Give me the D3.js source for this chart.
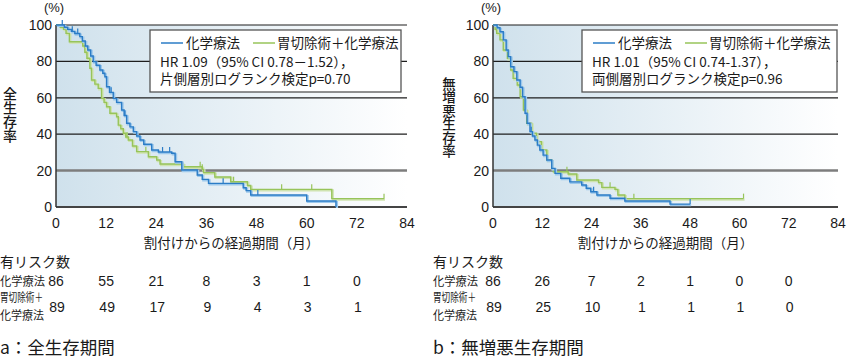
<!DOCTYPE html>
<html>
<head>
<meta charset="utf-8">
<script src="https://cdn.jsdelivr.net/npm/d3@7"></script>
<style>
  body { margin: 0; background: #fff; }
  svg text { font-family: "Liberation Sans", Arial, "Noto Sans CJK JP", sans-serif; fill: #1a1a1a; }
  .jp { font-family: "Noto Sans CJK JP", sans-serif; }
  .vert { writing-mode: vertical-rl; }
</style>
</head>
<body>
<svg id="chart" width="847" height="363"></svg>
<script>
// x axis months, y axis percent
var monthTicks = [0, 12, 24, 36, 48, 60, 72, 84];
var pctTicks = [0, 20, 40, 60, 80, 100];
var riskTimes = [0, 12, 24, 36, 48, 60, 72];

// a: overall survival
var osChemoT = [0, 2.0, 2.8, 3.7, 4.5, 5.7, 6.3, 7.0, 7.6, 8.3, 8.9, 9.6, 10.5, 11.2, 11.7, 12.1, 12.8, 13.7, 14.5, 15.7, 16.3, 16.9, 17.7, 18.5, 19.3, 20.1, 21.0, 22.9, 24.5, 27.7, 28.5, 30.1, 33.8, 35.0, 36.5, 44.8, 45.5, 46.6, 60.0, 67.0];
var osChemoS = [100, 98.8, 97.6, 96.5, 95.3, 93.6, 91.2, 88.5, 86.3, 83.0, 79.9, 77.9, 75.3, 73.5, 71.6, 66.1, 63.0, 59.7, 57.5, 53.3, 50.3, 46.0, 44.0, 41.4, 39.0, 36.8, 34.5, 31.3, 30.2, 29.5, 24.9, 20.3, 17.6, 15.2, 13.0, 10.6, 9.0, 6.6, 3.3, 0];
var osChemoCens = [1.5, 3.9, 5.2, 13.2, 16.5, 25.5, 27.2, 40.0, 48.3];
var osGastT = [0, 1.0, 1.8, 2.4, 3.2, 6.4, 6.9, 7.4, 8.1, 8.5, 9.3, 10.1, 10.9, 11.5, 12.1, 12.9, 14.5, 14.9, 15.5, 16.1, 16.7, 17.3, 18.3, 19.3, 22.1, 24.1, 24.9, 30.5, 35.0, 35.3, 38.0, 41.8, 45.8, 46.6, 66.0];
var osGastS = [100, 98.8, 97.7, 95.4, 90.8, 88.5, 85.0, 81.7, 76.2, 69.8, 67.5, 65.2, 59.7, 57.5, 55.1, 51.5, 49.6, 45.0, 43.0, 40.5, 38.5, 36.8, 33.5, 30.4, 27.6, 25.8, 23.6, 22.1, 20.7, 18.9, 16.5, 13.9, 11.8, 9.7, 4.6];
var osGastCens = [17.0, 21.5, 34.5, 35.0, 42.5, 54.0, 61.2];
var osGastEnd = 78.5;
var osRiskChemo = [86, 55, 21, 8, 3, 1, 0];
var osRiskGast = [89, 49, 17, 9, 4, 3, 1];

// b: progression-free survival
var pfsChemoT = [0, 1.0, 1.7, 2.5, 3.2, 3.7, 4.3, 5.1, 5.8, 6.6, 7.2, 7.8, 8.3, 9.0, 9.6, 10.2, 10.8, 11.4, 12.2, 13.1, 14.3, 15.1, 16.5, 18.7, 21.6, 22.7, 23.8, 25.3, 28.5, 32.1, 43.1];
var pfsChemoS = [100, 98.5, 96.3, 91.8, 86.3, 82.6, 77.1, 74.4, 69.8, 65.8, 60.6, 51.5, 46.0, 41.4, 39.0, 36.8, 34.0, 31.3, 28.5, 25.8, 21.2, 18.5, 15.8, 13.8, 12.1, 10.3, 8.4, 6.6, 4.8, 3.3, 1.6];
var pfsChemoCens = [9.3, 24.5];
var pfsChemoEnd = 48.0;
var pfsGastT = [0, 0.5, 0.9, 1.7, 2.5, 3.5, 4.3, 4.9, 5.9, 6.6, 7.4, 8.2, 9.4, 10.6, 11.8, 13.1, 14.3, 14.7, 18.3, 20.4, 25.7, 26.5, 29.7, 30.4, 32.1];
var pfsGastS = [100, 97.7, 95.4, 91.8, 86.3, 81.7, 75.3, 70.7, 67.0, 60.6, 53.3, 46.0, 40.5, 35.9, 31.3, 25.8, 21.2, 19.4, 18.1, 14.8, 13.4, 10.8, 9.7, 6.6, 4.6];
var pfsGastCens = [18.0, 28.5, 34.3];
var pfsGastEnd = 61.0;
var pfsRiskChemo = [86, 26, 7, 2, 1, 0, 0];
var pfsRiskGast = [89, 25, 10, 1, 1, 1, 0];

var blue = "#2b7cc6", blueLight = "#9cc8ec";
var green = "#97c45a", greenLight = "#cfe3b0";

var svg = d3.select("#chart");

var defs = svg.append("defs");
var grad = defs.append("linearGradient").attr("id", "bg").attr("x1", "0").attr("x2", "1").attr("y1", "0").attr("y2", "0");
grad.append("stop").attr("offset", "0%").attr("stop-color", "#cfe1ec");
grad.append("stop").attr("offset", "100%").attr("stop-color", "#ffffff");

// build step points from times/survival arrays, ending at end time
function steps(T, S, end) {
  var pts = T.map(function (t, i) { return [t, S[i]]; });
  var last = end != null ? end : T[T.length - 1];
  pts.push([last, S[S.length - 1]]);
  return pts;
}

function survAt(T, S, t) {
  var v = S[0];
  for (var i = 0; i < T.length; i++) { if (T[i] <= t) v = S[i]; }
  return v;
}

function drawPanel(p) {
  var x = d3.scaleLinear().domain([0, 84]).range([p.x0, p.x1]);
  var y = d3.scaleLinear().domain([0, 100]).range([207, 25]);
  var g = svg.append("g");

  g.append("rect")
    .attr("x", x(0)).attr("y", y(100))
    .attr("width", x(84) - x(0)).attr("height", y(0) - y(100))
    .attr("fill", "url(#bg)");

  // gridlines
  g.selectAll(".grid").data([20, 40, 60, 80, 100]).enter().append("line")
    .attr("x1", x(0)).attr("x2", x(84))
    .attr("y1", function (d) { return y(d); }).attr("y2", function (d) { return y(d); })
    .attr("stroke", function (d) { return d === 20 ? "#7d7d7d" : "#1e1e1e"; })
    .attr("stroke-width", function (d) { return d === 20 ? 2.5 : 1.2; });

  // axes lines
  g.append("line").attr("x1", x(0)).attr("x2", x(84)).attr("y1", y(0)).attr("y2", y(0))
    .attr("stroke", "#444").attr("stroke-width", 2);
  g.append("line").attr("x1", x(0)).attr("x2", x(0)).attr("y1", y(100)).attr("y2", y(0))
    .attr("stroke", "#333").attr("stroke-width", 1.5);

  // tick labels
  g.selectAll(".ylab").data(pctTicks).enter().append("text")
    .attr("x", x(0) - 4).attr("y", function (d) { return y(d) + 5; })
    .attr("text-anchor", "end").attr("font-size", 14)
    .text(function (d) { return d; });
  g.selectAll(".xlab").data(monthTicks).enter().append("text")
    .attr("x", function (d) { return x(d); }).attr("y", 228)
    .attr("text-anchor", "middle").attr("font-size", 14)
    .text(function (d) { return d; });

  g.append("text").attr("x", x(0) - 2).attr("y", 12).attr("text-anchor", "middle")
    .attr("font-size", 13).text("(%)");

  g.append("text").attr("class", "jp").attr("x", (x(0) + x(84)) / 2).attr("y", 248)
    .attr("text-anchor", "middle").attr("font-size", 13.5).text("割付けからの経過期間（月）");

  // vertical y title
  g.append("text").attr("class", "jp vert")
    .attr("x", p.ytx).attr("y", p.yty)
    .attr("font-size", p.ytSize).attr("font-weight", 500)
    .text(p.ytitle);

  // curves
  var line = d3.line().curve(d3.curveStepAfter)
    .x(function (d) { return x(d[0]); }).y(function (d) { return y(d[1]); });

  p.series.forEach(function (s) {
    var pts = steps(s.T, s.S, s.end);
    g.append("path").attr("d", line(pts)).attr("fill", "none")
      .attr("stroke", s.light).attr("stroke-width", 2.2)
      .attr("transform", "translate(1,1)");
    g.append("path").attr("d", line(pts)).attr("fill", "none")
      .attr("stroke", s.color).attr("stroke-width", 1.4);
    var cens = s.cens.slice();
    if (s.end != null) cens.push(s.end);
    g.selectAll(null).data(cens).enter().append("line")
      .attr("x1", function (t) { return x(t); }).attr("x2", function (t) { return x(t); })
      .attr("y1", function (t) { return y(survAt(s.T, s.S, t)); })
      .attr("y2", function (t) { return y(survAt(s.T, s.S, t)) - 5; })
      .attr("stroke", s.color).attr("stroke-width", 1.2);
  });

  // legend box
  var lx = p.legX, lw = p.legW;
  g.append("rect").attr("x", lx).attr("y", 30).attr("width", lw).attr("height", 62)
    .attr("fill", "#fff").attr("stroke", "#555").attr("stroke-width", 1.3);
  g.append("line").attr("x1", lx + 11).attr("x2", lx + 33).attr("y1", 43).attr("y2", 43)
    .attr("stroke", blue).attr("stroke-width", 1.5);
  g.append("text").attr("class", "jp").attr("x", lx + 36).attr("y", 48).attr("font-size", 13.5).text("化学療法");
  g.append("line").attr("x1", lx + 103).attr("x2", lx + 125).attr("y1", 43).attr("y2", 43)
    .attr("stroke", green).attr("stroke-width", 1.5);
  g.append("text").attr("class", "jp").attr("x", lx + 127).attr("y", 48).attr("font-size", 13.5).text("胃切除術＋化学療法");
  var note = g.append("text").attr("class", "jp").attr("font-size", 13.5);
  note.append("tspan").attr("x", lx + 10).attr("y", 67).text(p.hr);
  note.append("tspan").attr("x", lx + 10).attr("y", 84).text(p.test);

  // number at risk
  g.append("text").attr("class", "jp").attr("x", p.tx).attr("y", 267).attr("font-size", 14).text("有リスク数");
  g.append("text").attr("class", "jp").attr("x", p.tx).attr("y", 286).attr("font-size", 12)
    .attr("textLength", 45).attr("lengthAdjust", "spacingAndGlyphs").text("化学療法");
  var two = g.append("text").attr("class", "jp").attr("font-size", 12);
  two.append("tspan").attr("x", p.tx).attr("y", 302)
    .attr("textLength", 43).attr("lengthAdjust", "spacingAndGlyphs").text("胃切除術＋");
  two.append("tspan").attr("x", p.tx).attr("y", 320)
    .attr("textLength", 44).attr("lengthAdjust", "spacingAndGlyphs").text("化学療法");
  g.selectAll(".r1").data(p.risk1).enter().append("text")
    .attr("x", function (d, i) { return x(riskTimes[i]); }).attr("y", 286)
    .attr("text-anchor", "middle").attr("font-size", 14).text(function (d) { return d; });
  g.selectAll(".r2").data(p.risk2).enter().append("text")
    .attr("x", function (d, i) { return x(riskTimes[i]) + 1; }).attr("y", 312)
    .attr("text-anchor", "middle").attr("font-size", 14).text(function (d) { return d; });

  g.append("text").attr("class", "jp").attr("x", p.tx).attr("y", 354).attr("font-size", 17.5).text(p.title);
}

drawPanel({
  x0: 56, x1: 407, legX: 150, legW: 251, tx: 0, ytx: 10, yty: 87, ytSize: 14,
  ytitle: "全生存率",
  hr: "HR 1.09（95% CI 0.78－1.52），", test: "片側層別ログランク検定p=0.70",
  title: "a：全生存期間",
  risk1: osRiskChemo, risk2: osRiskGast,
  series: [
    { T: osGastT, S: osGastS, cens: osGastCens, end: osGastEnd, color: green, light: greenLight },
    { T: osChemoT, S: osChemoS, cens: osChemoCens, end: null, color: blue, light: blueLight }
  ]
});

drawPanel({
  x0: 493, x1: 838, legX: 582, legW: 255, tx: 433, ytx: 449, yty: 77, ytSize: 13.5,
  ytitle: "無増悪生存率",
  hr: "HR 1.01（95% CI 0.74-1.37），", test: "両側層別ログランク検定p=0.96",
  title: "b：無増悪生存期間",
  risk1: pfsRiskChemo, risk2: pfsRiskGast,
  series: [
    { T: pfsGastT, S: pfsGastS, cens: pfsGastCens, end: pfsGastEnd, color: green, light: greenLight },
    { T: pfsChemoT, S: pfsChemoS, cens: pfsChemoCens, end: pfsChemoEnd, color: blue, light: blueLight }
  ]
});
</script>
</body>
</html>
